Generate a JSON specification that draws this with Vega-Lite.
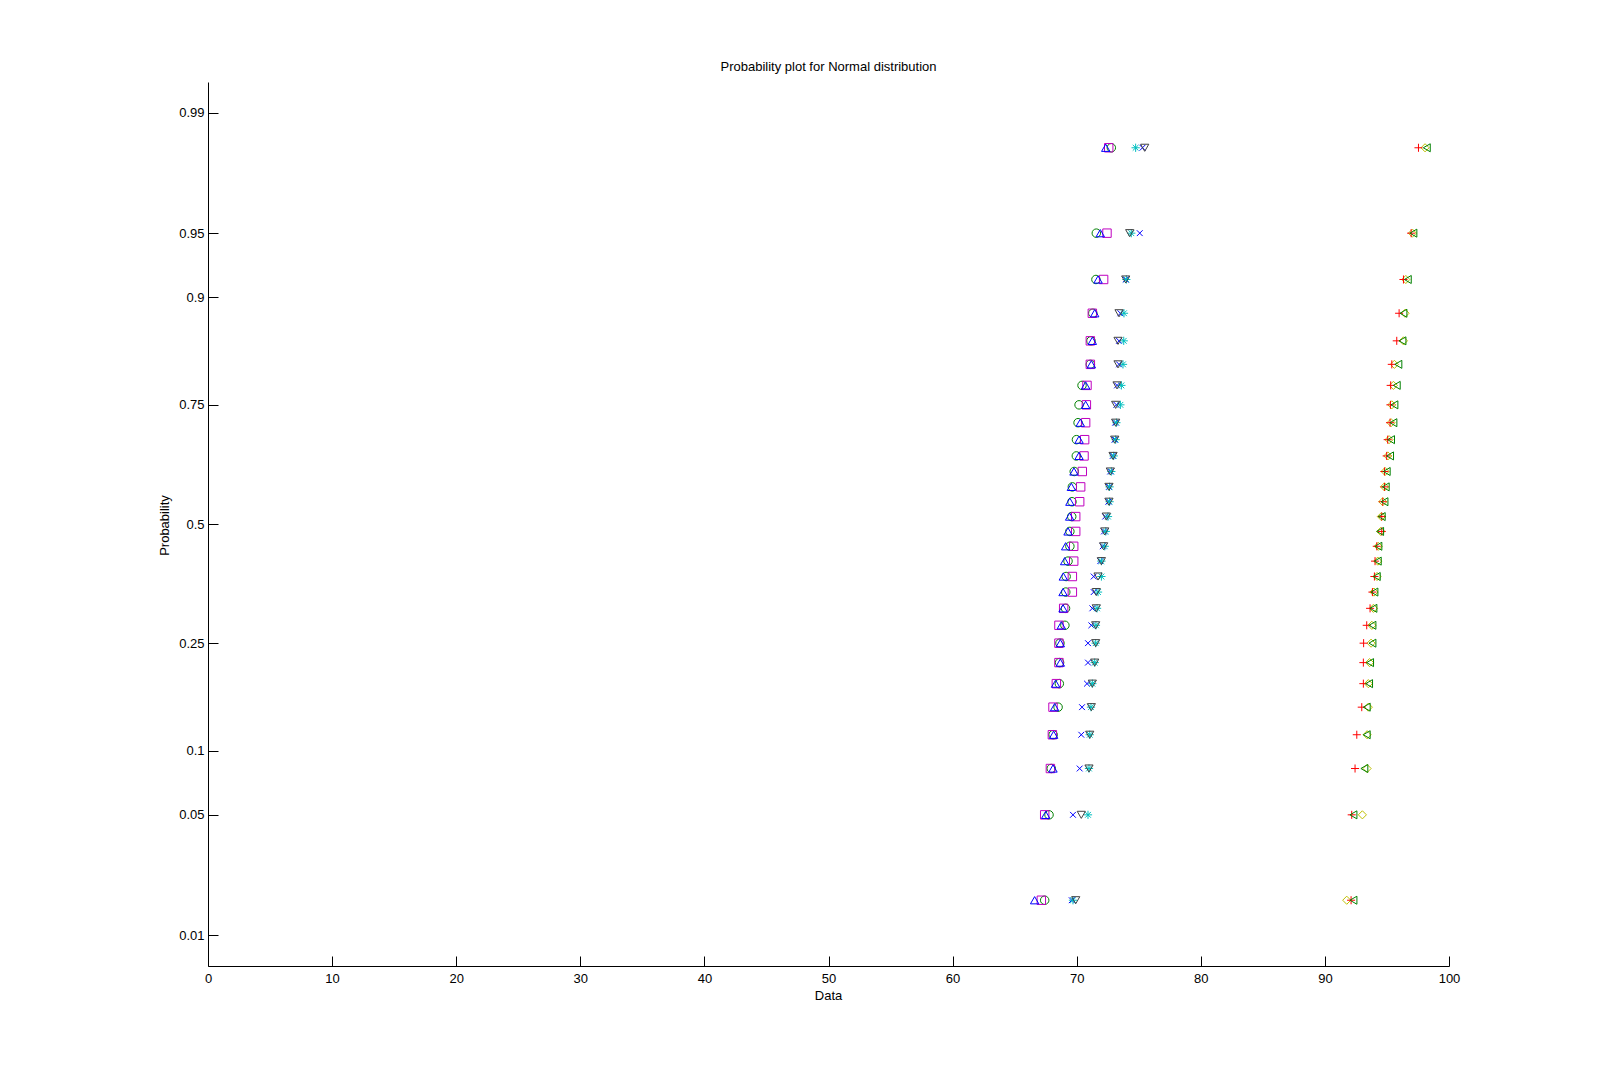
{
  "$schema": "https://vega.github.io/schema/vega-lite/v6.json",
  "width": 1241,
  "height": 884,
  "autosize": {"type": "none"},
  "padding": {"left": 208, "top": 82, "right": 152, "bottom": 119},
  "background": "white",
  "title": {"text": "Probability plot for Normal distribution", "fontSize": 13, "fontWeight": "normal", "font": "Liberation Sans", "offset": 8, "color": "black", "anchor": "middle"},
  "config": {
    "view": {"stroke": null},
    "axis": {"domainColor": "black", "tickColor": "black", "labelColor": "black", "titleColor": "black", "labelFont": "Liberation Sans", "titleFont": "Liberation Sans", "labelFontSize": 13, "titleFontSize": 13, "titleFontWeight": "normal", "grid": false, "domainWidth": 1, "tickWidth": 1}
  },
  "data": {"values": [
{"s":"circle","z":-2.128,"x":67.42},{"s":"circle","z":-1.645,"x":67.77},{"s":"circle","z":-1.383,"x":67.95},{"s":"circle","z":-1.192,"x":68.10},{"s":"circle","z":-1.036,"x":68.50},{"s":"circle","z":-0.903,"x":68.60},{"s":"circle","z":-0.784,"x":68.62},{"s":"circle","z":-0.674,"x":68.65},{"s":"circle","z":-0.573,"x":69.05},{"s":"circle","z":-0.477,"x":69.10},{"s":"circle","z":-0.385,"x":69.12},{"s":"circle","z":-0.297,"x":69.15},{"s":"circle","z":-0.21,"x":69.30},{"s":"circle","z":-0.126,"x":69.45},{"s":"circle","z":-0.042,"x":69.45},{"s":"circle","z":0.042,"x":69.60},{"s":"circle","z":0.126,"x":69.62},{"s":"circle","z":0.21,"x":69.65},{"s":"circle","z":0.297,"x":69.80},{"s":"circle","z":0.385,"x":69.97},{"s":"circle","z":0.477,"x":69.98},{"s":"circle","z":0.573,"x":70.11},{"s":"circle","z":0.674,"x":70.19},{"s":"circle","z":0.784,"x":70.43},{"s":"circle","z":0.903,"x":71.10},{"s":"circle","z":1.036,"x":71.15},{"s":"circle","z":1.192,"x":71.30},{"s":"circle","z":1.383,"x":71.55},{"s":"circle","z":1.645,"x":71.58},{"s":"circle","z":2.128,"x":72.79},
{"s":"square","z":-2.128,"x":67.15},{"s":"square","z":-1.645,"x":67.42},{"s":"square","z":-1.383,"x":67.88},{"s":"square","z":-1.192,"x":68.04},{"s":"square","z":-1.036,"x":68.09},{"s":"square","z":-0.903,"x":68.36},{"s":"square","z":-0.784,"x":68.57},{"s":"square","z":-0.674,"x":68.57},{"s":"square","z":-0.573,"x":68.57},{"s":"square","z":-0.477,"x":68.95},{"s":"square","z":-0.385,"x":69.65},{"s":"square","z":-0.297,"x":69.65},{"s":"square","z":-0.21,"x":69.76},{"s":"square","z":-0.126,"x":69.76},{"s":"square","z":-0.042,"x":69.92},{"s":"square","z":0.042,"x":69.92},{"s":"square","z":0.126,"x":70.24},{"s":"square","z":0.21,"x":70.32},{"s":"square","z":0.297,"x":70.45},{"s":"square","z":0.385,"x":70.59},{"s":"square","z":0.477,"x":70.64},{"s":"square","z":0.573,"x":70.72},{"s":"square","z":0.674,"x":70.78},{"s":"square","z":0.784,"x":70.83},{"s":"square","z":0.903,"x":71.10},{"s":"square","z":1.036,"x":71.10},{"s":"square","z":1.192,"x":71.26},{"s":"square","z":1.383,"x":72.17},{"s":"square","z":1.645,"x":72.44},{"s":"square","z":2.128,"x":72.58},
{"s":"tri_up","z":-2.128,"x":66.61},{"s":"tri_up","z":-1.645,"x":67.50},{"s":"tri_up","z":-1.383,"x":68.09},{"s":"tri_up","z":-1.192,"x":68.14},{"s":"tri_up","z":-1.036,"x":68.22},{"s":"tri_up","z":-0.903,"x":68.30},{"s":"tri_up","z":-0.784,"x":68.68},{"s":"tri_up","z":-0.674,"x":68.68},{"s":"tri_up","z":-0.573,"x":68.76},{"s":"tri_up","z":-0.477,"x":68.90},{"s":"tri_up","z":-0.385,"x":68.90},{"s":"tri_up","z":-0.297,"x":68.92},{"s":"tri_up","z":-0.21,"x":69.03},{"s":"tri_up","z":-0.126,"x":69.11},{"s":"tri_up","z":-0.042,"x":69.30},{"s":"tri_up","z":0.042,"x":69.43},{"s":"tri_up","z":0.126,"x":69.45},{"s":"tri_up","z":0.21,"x":69.57},{"s":"tri_up","z":0.297,"x":69.78},{"s":"tri_up","z":0.385,"x":70.19},{"s":"tri_up","z":0.477,"x":70.19},{"s":"tri_up","z":0.573,"x":70.29},{"s":"tri_up","z":0.674,"x":70.72},{"s":"tri_up","z":0.784,"x":70.72},{"s":"tri_up","z":0.903,"x":71.18},{"s":"tri_up","z":1.036,"x":71.26},{"s":"tri_up","z":1.192,"x":71.45},{"s":"tri_up","z":1.383,"x":71.72},{"s":"tri_up","z":1.645,"x":71.90},{"s":"tri_up","z":2.128,"x":72.34},
{"s":"xmark","z":-2.128,"x":69.60},{"s":"xmark","z":-1.645,"x":69.70},{"s":"xmark","z":-1.383,"x":70.24},{"s":"xmark","z":-1.192,"x":70.37},{"s":"xmark","z":-1.036,"x":70.43},{"s":"xmark","z":-0.903,"x":70.83},{"s":"xmark","z":-0.784,"x":70.91},{"s":"xmark","z":-0.674,"x":70.91},{"s":"xmark","z":-0.573,"x":71.18},{"s":"xmark","z":-0.477,"x":71.26},{"s":"xmark","z":-0.385,"x":71.37},{"s":"xmark","z":-0.297,"x":71.37},{"s":"xmark","z":-0.21,"x":71.90},{"s":"xmark","z":-0.126,"x":72.10},{"s":"xmark","z":-0.042,"x":72.20},{"s":"xmark","z":0.042,"x":72.30},{"s":"xmark","z":0.126,"x":72.55},{"s":"xmark","z":0.21,"x":72.60},{"s":"xmark","z":0.297,"x":72.70},{"s":"xmark","z":0.385,"x":72.90},{"s":"xmark","z":0.477,"x":73.05},{"s":"xmark","z":0.573,"x":73.10},{"s":"xmark","z":0.674,"x":73.20},{"s":"xmark","z":0.784,"x":73.25},{"s":"xmark","z":0.903,"x":73.41},{"s":"xmark","z":1.036,"x":73.41},{"s":"xmark","z":1.192,"x":73.52},{"s":"xmark","z":1.383,"x":73.95},{"s":"xmark","z":1.645,"x":75.08},{"s":"xmark","z":2.128,"x":75.30},
{"s":"star","z":-2.128,"x":69.70},{"s":"star","z":-1.645,"x":70.91},{"s":"star","z":-1.383,"x":70.99},{"s":"star","z":-1.192,"x":71.05},{"s":"star","z":-1.036,"x":71.15},{"s":"star","z":-0.903,"x":71.26},{"s":"star","z":-0.784,"x":71.45},{"s":"star","z":-0.674,"x":71.53},{"s":"star","z":-0.573,"x":71.55},{"s":"star","z":-0.477,"x":71.64},{"s":"star","z":-0.385,"x":71.72},{"s":"star","z":-0.297,"x":71.99},{"s":"star","z":-0.21,"x":71.99},{"s":"star","z":-0.126,"x":72.26},{"s":"star","z":-0.042,"x":72.34},{"s":"star","z":0.042,"x":72.52},{"s":"star","z":0.126,"x":72.65},{"s":"star","z":0.21,"x":72.65},{"s":"star","z":0.297,"x":72.79},{"s":"star","z":0.385,"x":72.98},{"s":"star","z":0.477,"x":73.14},{"s":"star","z":0.573,"x":73.20},{"s":"star","z":0.674,"x":73.52},{"s":"star","z":0.784,"x":73.60},{"s":"star","z":0.903,"x":73.73},{"s":"star","z":1.036,"x":73.79},{"s":"star","z":1.192,"x":73.81},{"s":"star","z":1.383,"x":74.00},{"s":"star","z":1.645,"x":74.40},{"s":"star","z":2.128,"x":74.75},
{"s":"tri_down","z":-2.128,"x":69.92},{"s":"tri_down","z":-1.645,"x":70.37},{"s":"tri_down","z":-1.383,"x":70.99},{"s":"tri_down","z":-1.192,"x":71.05},{"s":"tri_down","z":-1.036,"x":71.18},{"s":"tri_down","z":-0.903,"x":71.26},{"s":"tri_down","z":-0.784,"x":71.45},{"s":"tri_down","z":-0.674,"x":71.53},{"s":"tri_down","z":-0.573,"x":71.53},{"s":"tri_down","z":-0.477,"x":71.58},{"s":"tri_down","z":-0.385,"x":71.58},{"s":"tri_down","z":-0.297,"x":71.72},{"s":"tri_down","z":-0.21,"x":71.99},{"s":"tri_down","z":-0.126,"x":72.17},{"s":"tri_down","z":-0.042,"x":72.26},{"s":"tri_down","z":0.042,"x":72.39},{"s":"tri_down","z":0.126,"x":72.60},{"s":"tri_down","z":0.21,"x":72.60},{"s":"tri_down","z":0.297,"x":72.71},{"s":"tri_down","z":0.385,"x":72.93},{"s":"tri_down","z":0.477,"x":73.06},{"s":"tri_down","z":0.573,"x":73.14},{"s":"tri_down","z":0.674,"x":73.14},{"s":"tri_down","z":0.784,"x":73.25},{"s":"tri_down","z":0.903,"x":73.33},{"s":"tri_down","z":1.036,"x":73.33},{"s":"tri_down","z":1.192,"x":73.41},{"s":"tri_down","z":1.383,"x":73.95},{"s":"tri_down","z":1.645,"x":74.27},{"s":"tri_down","z":2.128,"x":75.48},
{"s":"diamond","z":-2.128,"x":91.76},{"s":"diamond","z":-1.645,"x":93.02},{"s":"diamond","z":-1.383,"x":93.40},{"s":"diamond","z":-1.192,"x":93.40},{"s":"diamond","z":-1.036,"x":93.50},{"s":"diamond","z":-0.903,"x":93.50},{"s":"diamond","z":-0.784,"x":93.60},{"s":"diamond","z":-0.674,"x":93.72},{"s":"diamond","z":-0.573,"x":93.78},{"s":"diamond","z":-0.477,"x":93.91},{"s":"diamond","z":-0.385,"x":93.95},{"s":"diamond","z":-0.297,"x":94.20},{"s":"diamond","z":-0.21,"x":94.26},{"s":"diamond","z":-0.126,"x":94.30},{"s":"diamond","z":-0.042,"x":94.50},{"s":"diamond","z":0.042,"x":94.55},{"s":"diamond","z":0.126,"x":94.66},{"s":"diamond","z":0.21,"x":94.80},{"s":"diamond","z":0.297,"x":94.85},{"s":"diamond","z":0.385,"x":95.07},{"s":"diamond","z":0.477,"x":95.17},{"s":"diamond","z":0.573,"x":95.33},{"s":"diamond","z":0.674,"x":95.39},{"s":"diamond","z":0.784,"x":95.52},{"s":"diamond","z":0.903,"x":95.60},{"s":"diamond","z":1.036,"x":96.33},{"s":"diamond","z":1.192,"x":96.46},{"s":"diamond","z":1.383,"x":96.52},{"s":"diamond","z":1.645,"x":97.05},{"s":"diamond","z":2.128,"x":98.07},
{"s":"plus","z":-2.128,"x":92.11},{"s":"plus","z":-1.645,"x":92.16},{"s":"plus","z":-1.383,"x":92.43},{"s":"plus","z":-1.192,"x":92.57},{"s":"plus","z":-1.036,"x":92.97},{"s":"plus","z":-0.903,"x":93.10},{"s":"plus","z":-0.784,"x":93.10},{"s":"plus","z":-0.674,"x":93.12},{"s":"plus","z":-0.573,"x":93.37},{"s":"plus","z":-0.477,"x":93.64},{"s":"plus","z":-0.385,"x":93.83},{"s":"plus","z":-0.297,"x":93.99},{"s":"plus","z":-0.21,"x":94.04},{"s":"plus","z":-0.126,"x":94.18},{"s":"plus","z":-0.042,"x":94.58},{"s":"plus","z":0.042,"x":94.58},{"s":"plus","z":0.126,"x":94.66},{"s":"plus","z":0.21,"x":94.80},{"s":"plus","z":0.297,"x":94.80},{"s":"plus","z":0.385,"x":94.98},{"s":"plus","z":0.477,"x":95.06},{"s":"plus","z":0.573,"x":95.25},{"s":"plus","z":0.674,"x":95.28},{"s":"plus","z":0.784,"x":95.30},{"s":"plus","z":0.903,"x":95.39},{"s":"plus","z":1.036,"x":95.79},{"s":"plus","z":1.192,"x":95.98},{"s":"plus","z":1.383,"x":96.33},{"s":"plus","z":1.645,"x":96.95},{"s":"plus","z":2.128,"x":97.54},
{"s":"tri_left","z":-2.128,"x":92.30},{"s":"tri_left","z":-1.645,"x":92.30},{"s":"tri_left","z":-1.383,"x":93.18},{"s":"tri_left","z":-1.192,"x":93.37},{"s":"tri_left","z":-1.036,"x":93.37},{"s":"tri_left","z":-0.903,"x":93.56},{"s":"tri_left","z":-0.784,"x":93.64},{"s":"tri_left","z":-0.674,"x":93.83},{"s":"tri_left","z":-0.573,"x":93.83},{"s":"tri_left","z":-0.477,"x":93.91},{"s":"tri_left","z":-0.385,"x":93.99},{"s":"tri_left","z":-0.297,"x":94.18},{"s":"tri_left","z":-0.21,"x":94.26},{"s":"tri_left","z":-0.126,"x":94.31},{"s":"tri_left","z":-0.042,"x":94.45},{"s":"tri_left","z":0.042,"x":94.58},{"s":"tri_left","z":0.126,"x":94.80},{"s":"tri_left","z":0.21,"x":94.90},{"s":"tri_left","z":0.297,"x":94.98},{"s":"tri_left","z":0.385,"x":95.25},{"s":"tri_left","z":0.477,"x":95.33},{"s":"tri_left","z":0.573,"x":95.52},{"s":"tri_left","z":0.674,"x":95.60},{"s":"tri_left","z":0.784,"x":95.79},{"s":"tri_left","z":0.903,"x":95.92},{"s":"tri_left","z":1.036,"x":96.25},{"s":"tri_left","z":1.192,"x":96.33},{"s":"tri_left","z":1.383,"x":96.68},{"s":"tri_left","z":1.645,"x":97.13},{"s":"tri_left","z":2.128,"x":98.21}
  ]},
  "mark": {"type": "point", "filled": false, "strokeWidth": 1, "opacity": 1},
  "encoding": {
    "x": {"field": "x", "type": "quantitative", "scale": {"domain": [0, 100], "nice": false, "zero": false},
      "axis": {"title": "Data", "values": [0,10,20,30,40,50,60,70,80,90,100], "tickSize": -10, "labelPadding": 16, "labelFlush": false, "titleX": 620, "titleY": 29, "titleBaseline": "middle"}},
    "y": {"field": "z", "type": "quantitative", "scale": {"domain": [-2.5, 2.5], "nice": false, "zero": false},
      "axis": {"title": "Probability", "values": [-2.3263, -1.6449, -1.2816, -0.6745, 0, 0.6745, 1.2816, 1.6449, 2.3263], "tickSize": -10, "labelPadding": 14,
        "labelExpr": "datum.value < -2 ? '0.01' : datum.value < -1.5 ? '0.05' : datum.value < -1 ? '0.1' : datum.value < -0.5 ? '0.25' : datum.value < 0.5 ? '0.5' : datum.value < 1 ? '0.75' : datum.value < 1.5 ? '0.9' : datum.value < 2 ? '0.95' : '0.99'",
        "titleX": -44, "titleY": 443, "titleBaseline": "middle", "titleAngle": -90}},
    "color": {"field": "s", "type": "nominal", "legend": null,
      "scale": {"domain": ["circle","square","tri_up","xmark","star","tri_down","diamond","plus","tri_left"],
        "range": ["#008000","#bf00bf","#0000ff","#0000ff","#00bfbf","#404040","#bfbf00","#ff0000","#008000"]}},
    "shape": {"field": "s", "type": "nominal", "legend": null,
      "scale": {"domain": ["circle","square","tri_up","xmark","star","tri_down","diamond","plus","tri_left"],
        "range": ["circle","square","triangle-up","M-0.7,-0.7L0.7,0.7M-0.7,0.7L0.7,-0.7","M-1,0L1,0M0,-1L0,1M-0.7,-0.7L0.7,0.7M-0.7,0.7L0.7,-0.7","triangle-down","diamond","M-1,0L1,0M0,-1L0,1","triangle-left"]}},
    "size": {"field": "s", "type": "nominal", "legend": null,
      "scale": {"domain": ["circle","square","tri_up","xmark","star","tri_down","diamond","plus","tri_left"],
        "range": [72, 64, 100, 49, 81, 100, 100, 81, 100]}}
  }
}
